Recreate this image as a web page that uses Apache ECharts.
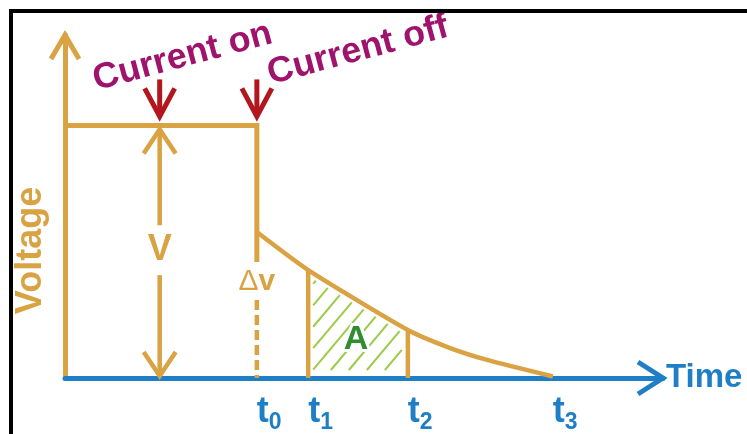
<!DOCTYPE html>
<html><head><meta charset="utf-8">
<script src="https://cdn.jsdelivr.net/npm/echarts@6/dist/echarts.min.js"></script>
<style>html,body{margin:0;padding:0;background:#fff}#c{width:747px;height:434px}</style>
</head><body><div id="c"></div>
<script>
// ---------------- data ----------------
const timeLabels = ['t0', 't1', 't2', 't3'];
const timeMarks = [3.85, 4.88, 6.88, 9.79];
const onVoltage = 8.1;
const decayTime = [3.85, 4.88, 6.88, 7.73, 8.47, 9.79];
const decayVoltage = [4.68, 3.46, 1.54, 0.96, 0.58, 0.05];
const markerTime = 1.9;          // where V is measured / "Current on" arrow
const dvSolidEnd = 3.72;         // solid drop at t0 ends here
const dvDashStart = 2.5;         // dashed part at t0 starts here
const vGap = [4.9, 3.3];         // break in the V double arrow
const axisNames = ['Time', 'Voltage'];
const notes = ['Current on', 'Current off', 'V', 'Δ', 'v', 'A'];
const xMax = 12, yMax = 11;

// ---------------- styles ----------------
const ORANGE = '#d9a243', BLUE = '#1f7fc6', MAGENTA = '#a0136d', RED = '#b3161d';
const HATCH = '#9ccc48', GREEN = '#2f8f2f';
const FONT = '"Liberation Sans", Arial, sans-serif';

const chart = echarts.init(document.getElementById('c'));

function labelIndex(v) {
  return timeMarks.findIndex(t => Math.abs(t - v) < 1e-6);
}

function renderDecor(params, api) {
  const P = (t, v) => api.coord([t, v]);
  const kids = [];
  const stroke = (pts, color, w, dash) => kids.push({
    type: 'polyline', shape: { points: pts },
    style: { stroke: color, lineWidth: w, fill: null, lineDash: dash || null, lineJoin: 'miter', lineCap: 'butt' }
  });
  const chevron = (tip, dir, len, half, color, w) => {
    let pts;
    if (dir === 'down') pts = [[tip[0] - half, tip[1] - len], tip, [tip[0] + half, tip[1] - len]];
    else if (dir === 'up') pts = [[tip[0] - half, tip[1] + len], tip, [tip[0] + half, tip[1] + len]];
    else pts = [[tip[0] - len, tip[1] - half], tip, [tip[0] - len, tip[1] + half]];
    stroke(pts, color, w);
  };
  const text = (str, at, opts) => kids.push({
    type: 'text', x: at[0], y: at[1], rotation: (opts.rot || 0) * Math.PI / 180,
    style: Object.assign({ text: str, align: 'center', verticalAlign: 'middle', fontFamily: FONT }, opts.style)
  });

  // hatch between t1 and t2 under the curve
  const a = P(timeMarks[1], decayVoltage[1]);
  const b = P(timeMarks[2], decayVoltage[2]);
  const yb = P(0, 0)[1];
  const m = Math.tan(50 * Math.PI / 180);
  const s = (b[1] - a[1]) / (b[0] - a[0]);
  const xl = a[0] + 5, xr = b[0] - 6, ybot = yb - 8, inset = 6;
  for (let c = a[0] - 200; c < b[0] + 10; c += 18) {
    const xs = Math.max(xl, c + (yb - ybot) / m);
    const xe = Math.min(xr, (yb - a[1] - inset + c * m + s * a[0]) / (m + s));
    if (xe - xs > 2) {
      stroke([[xs, yb - (xs - c) * m], [xe, yb - (xe - c) * m]], HATCH, 2);
    }
  }

  // verticals at t1, t2
  stroke([P(timeMarks[1], 0), P(timeMarks[1], decayVoltage[1])], ORANGE, 4.5);
  stroke([P(timeMarks[2], 0), P(timeMarks[2], decayVoltage[2])], ORANGE, 4.5);
  // dashed part at t0
  stroke([P(timeMarks[0], dvDashStart), P(timeMarks[0], 0)], ORANGE, 4.5, [10, 5]);

  // V double arrow
  const top = P(markerTime, onVoltage); top[1] += 4;
  const bot = P(markerTime, 0); bot[1] -= 2;
  stroke([top, P(markerTime, vGap[0])], ORANGE, 4.5);
  stroke([P(markerTime, vGap[1]), bot], ORANGE, 4.5);
  chevron(top, 'up', 24, 16, ORANGE, 4.5);
  chevron(bot, 'down', 24, 16, ORANGE, 4.5);

  // axis arrow heads
  chevron(P(0, yMax), 'up', 24, 14, ORANGE, 5);
  chevron(P(xMax, 0), 'right', 25, 16, BLUE, 5);

  // red "current" arrows
  [markerTime, timeMarks[0]].forEach(t => {
    const tip = P(t, onVoltage); tip[1] -= 9;
    stroke([[tip[0], tip[1] - 37], tip], RED, 5);
    chevron(tip, 'down', 28, 15, RED, 5);
  });

  // annotations
  text(notes[0], P(2.36, 10.3), { rot: 15, style: { fill: MAGENTA, fontSize: 36, fontWeight: 'bold' } });
  text(notes[1], P(5.88, 10.5), { rot: 15, style: { fill: MAGENTA, fontSize: 36, fontWeight: 'bold' } });
  text(notes[2], P(markerTime, 4.1), { style: { fill: ORANGE, fontSize: 36, fontWeight: 'bold' } });
  text('{d|' + notes[3] + '}{v|' + notes[4] + '}', P(timeMarks[0], 3.08), {
    style: { rich: { d: { fill: ORANGE, fontSize: 30, fontFamily: FONT }, v: { fill: ORANGE, fontSize: 30, fontWeight: 'bold', fontFamily: FONT } } }
  });
  text(notes[5], P(5.84, 1.22), { style: { fill: GREEN, fontSize: 34, fontWeight: 'bold', stroke: '#fff', lineWidth: 6 } });

  return { type: 'group', children: kids };
}

chart.setOption({
  animation: false,
  backgroundColor: '#fff',
  grid: { left: 65, right: 84, top: 35, bottom: 56 },
  xAxis: {
    type: 'value', min: 0, max: xMax,
    splitLine: { show: false }, axisTick: { show: false },
    axisLine: { lineStyle: { color: BLUE, width: 5 } },
    axisLabel: {
      customValues: timeMarks, align: 'left', margin: 12,
      formatter: v => { const l = timeLabels[labelIndex(v)] || ''; return '{t|' + l[0] + '}{s|' + l.slice(1) + '}'; },
      rich: {
        t: { color: BLUE, fontSize: 36, fontWeight: 'bold', fontFamily: FONT, lineHeight: 44, verticalAlign: 'middle' },
        s: { color: BLUE, fontSize: 23, fontWeight: 'bold', fontFamily: FONT, lineHeight: 22, verticalAlign: 'bottom' }
      }
    },
    name: axisNames[0], nameLocation: 'end', nameGap: 3,
    nameTextStyle: { color: BLUE, fontSize: 33, fontWeight: 'bold', fontFamily: FONT, verticalAlign: 'middle', padding: [6, 0, 0, 0] }
  },
  yAxis: {
    type: 'value', min: 0, max: yMax,
    splitLine: { show: false }, axisTick: { show: false }, axisLabel: { show: false },
    axisLine: { show: true, lineStyle: { color: ORANGE, width: 5 } },
    name: axisNames[1], nameLocation: 'middle', nameGap: 16, nameRotate: 90,
    nameTextStyle: { color: ORANGE, fontSize: 36, fontWeight: 'bold', fontFamily: FONT, padding: [0, 88, 0, 0] }
  },
  graphic: [{
    type: 'rect', silent: true, z: 100,
    shape: { x: 11, y: 11, width: 780, height: 460 },
    style: { fill: null, stroke: '#000', lineWidth: 4 }
  }],
  series: [
    {
      type: 'line', name: 'on', showSymbol: false, z: 3,
      lineStyle: { color: ORANGE, width: 5, join: 'miter' },
      data: [[0, onVoltage], [timeMarks[0], onVoltage], [timeMarks[0], dvSolidEnd]]
    },
    {
      type: 'line', name: 'decay', showSymbol: false, z: 3, smooth: 0.2,
      lineStyle: { color: ORANGE, width: 4.5 },
      data: decayTime.map((t, i) => [t, decayVoltage[i]])
    },
    {
      type: 'custom', name: 'decor', clip: false, z: 4,
      renderItem: renderDecor,
      data: [[0, 0]]
    }
  ]
});
</script></body></html>
